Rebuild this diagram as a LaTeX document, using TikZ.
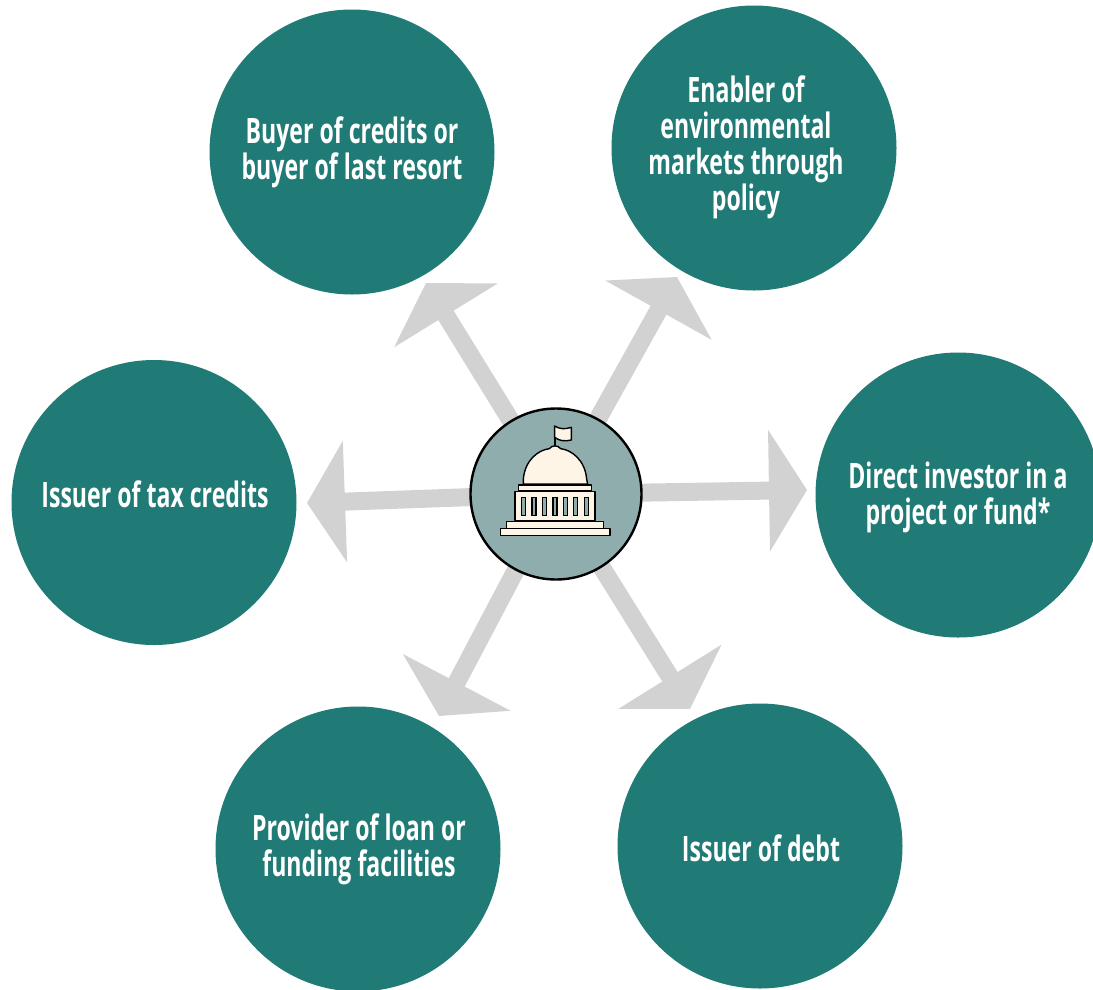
\documentclass[tikz,border=0pt]{standalone}
\usepackage{fontspec}
\setmainfont{Open Sans}[FakeStretch=0.66]
\usetikzlibrary{arrows.meta,backgrounds}
\definecolor{teal1}{HTML}{207A75}
\definecolor{hubc}{HTML}{8FADAD}
\definecolor{creamc}{HTML}{FFF5E6}
\definecolor{arrowc}{HTML}{D2D2D2}
\tikzset{
  role/.style={circle,fill=teal1,minimum size=285pt,inner sep=0pt},
  roletext/.style={text=white,align=center,inner sep=0pt,
    font=\fontsize{35}{36}\selectfont\bfseries},
  hub/.style={circle,fill=hubc,draw=black,line width=2.4pt,minimum size=171pt,inner sep=0pt},
  link/.style={draw=arrowc,line width=18pt,-{Triangle[length=38pt,width=120pt,fill=arrowc]}},
  icon/.style={fill=creamc,draw=black,line width=1.4pt,line join=round},
  pane/.style={fill=hubc,draw=black,line width=1.4pt}
}
\begin{document}
\begin{tikzpicture}[x=1pt,y=-1pt]
\useasboundingbox (0,0) rectangle (1093,989);
\clip (0,0) rectangle (1093,989);
\node[role] (tl) at (352,152) {};
\node[role] (tr) at (754,148) {};
\node[role] (rr) at (958,495) {};
\node[role] (ll) at (154,502.5) {};
\node[role] (bl) at (358,849) {};
\node[role] (br) at (760,846) {};
\node[roletext] (ttl1) at (352,152) {Buyer of credits or\\buyer of last resort};
\node[roletext] (ttr1) at (746,147) {Enabler of\\environmental\\markets through\\policy};
\node[roletext] (trr1) at (958,497) {Direct investor in a\\project or fund*};
\node[roletext] (tll1) at (155,494) {Issuer of tax credits};
\node[roletext] (tbl1) at (359,849) {Provider of loan or\\funding facilities};
\node[roletext] (tbr1) at (761,848) {Issuer of debt};
\node[hub] (hub) at (556,494) {};
\coordinate (ttl) at (426,283);
\coordinate (ttr) at (677,277);
\coordinate (trr) at (807,490);
\coordinate (tll) at (307,503);
\coordinate (tbl) at (439,716);
\coordinate (tbr) at (690,709);
\begin{scope}[on background layer]
\draw[link] (hub.center) -- (ttl);
\draw[link] (hub.center) -- (ttr);
\draw[link] (hub.center) -- (trr);
\draw[link] (hub.center) -- (tll);
\draw[link] (hub.center) -- (tbl);
\draw[link] (hub.center) -- (tbr);
\end{scope}
\begin{scope}[shift={(460,400)},x=0.3333pt,y=-0.3333pt]
\draw[black,line width=1.8pt] (284,78) -- (284,140);
\draw[icon] (284,78) .. controls (300,88) and (315,88) .. (334,82) -- (334,120) .. controls (315,124) and (300,124) .. (284,112) -- cycle;
\draw[icon] (190,252) -- (190,237) .. controls (195,180) and (235,150) .. (268,146) .. controls (275,135) and (295,135) .. (302,146) .. controls (335,150) and (375,180) .. (380,237) -- (383,252) -- cycle;
\draw[icon] (175,255) rectangle (395,273);
\draw[icon] (165,275) rectangle (405,362);
\foreach \wx in {190,222,253,285,316,347,379}
  \draw[pane] (\wx-6,292) rectangle (\wx+6,347);
\draw[icon] (140,365) rectangle (431,385);
\draw[icon] (121,385) rectangle (450,407);
\end{scope}
\end{tikzpicture}
\end{document}
